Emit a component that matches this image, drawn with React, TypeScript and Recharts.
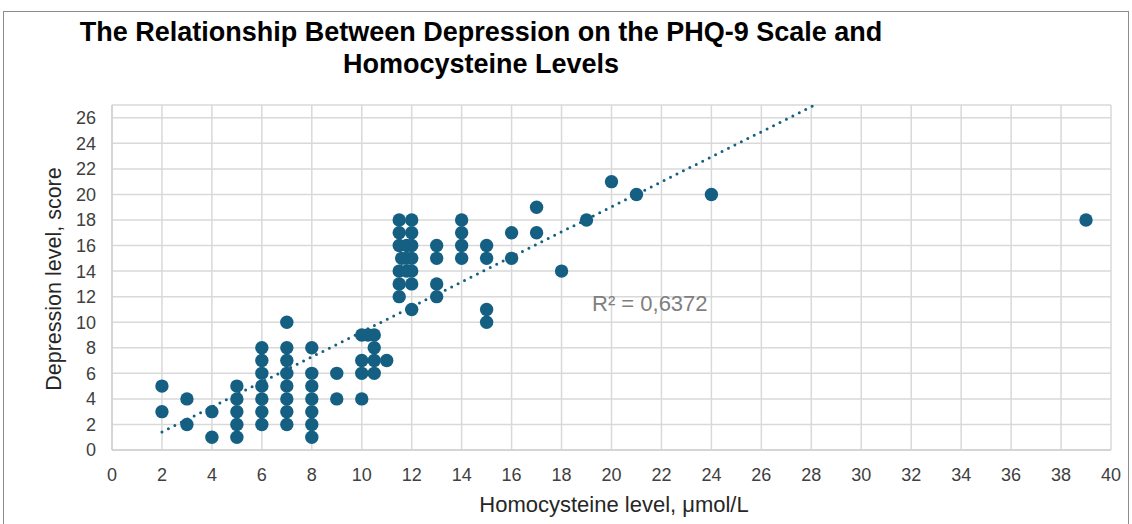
import React from 'react';
import { ScatterChart, Scatter, XAxis, YAxis, CartesianGrid, ReferenceLine } from 'recharts';

// homocysteine level (µmol/L) for each column of points
const HCY_LEVELS = [2, 3, 4, 5, 6, 7, 8, 9, 10, 10.25, 10.5, 11, 11.5, 11.6, 11.8, 12, 13, 14, 15, 16, 17, 18, 19, 20, 21, 24, 39];

// PHQ-9 scores found at each homocysteine level above
const PHQ9_SCORES = [
  [5, 3],
  [4, 2],
  [3, 1],
  [5, 4, 3, 2, 1],
  [8, 7, 6, 5, 4, 3, 2],
  [10, 8, 7, 6, 5, 4, 3, 2],
  [8, 6, 5, 4, 3, 2, 1],
  [6, 4],
  [9, 7, 6, 4],
  [9],
  [9, 8, 7, 6],
  [7],
  [18, 17, 16, 14, 13, 12],
  [15],
  [16, 15, 14],
  [18, 17, 16, 15, 14, 13, 11],
  [16, 15, 13, 12],
  [18, 17, 16, 15],
  [16, 15, 11, 10],
  [17, 15],
  [19, 17],
  [14],
  [18],
  [21],
  [20],
  [20],
  [18],
];

const X_TICKS = [0, 2, 4, 6, 8, 10, 12, 14, 16, 18, 20, 22, 24, 26, 28, 30, 32, 34, 36, 38, 40];
const Y_TICKS = [0, 2, 4, 6, 8, 10, 12, 14, 16, 18, 20, 22, 24, 26];

// linear trendline as shown in the original chart
const TREND_SLOPE = 0.979;
const TREND_INTERCEPT = -0.55;
const TREND_RANGE = [2, 39];
const R_SQUARED = 'R² = 0,6372';

const points = HCY_LEVELS.flatMap((x, i) => PHQ9_SCORES[i].map((y) => ({ x, y })));

const DOT = '#156082';
const FONT = 'Arial, "Liberation Sans", sans-serif';

const Dot = (props: any) => <circle cx={props.cx} cy={props.cy} r={6.7} fill={DOT} />;

export default function App() {
  return (
    <div style={{ position: 'absolute', left: 0, top: 0, width: 1132, height: 524, background: '#fff', fontFamily: FONT, overflow: 'hidden' }}>
      <div style={{ position: 'absolute', left: 3, top: 11, width: 1124, height: 520, border: '1px solid #8c8c8c' }} />
      <div style={{ position: 'absolute', left: 0, top: 16, width: 962, textAlign: 'center', fontSize: 27, fontWeight: 'bold', lineHeight: '32px', color: '#000' }}>
        The Relationship Between Depression on the PHQ-9 Scale and
        <br />
        Homocysteine Levels
      </div>
      <div style={{ position: 'absolute', left: 0, top: 0 }}>
        <ScatterChart width={1132} height={524} margin={{ top: 105, right: 21, bottom: 0, left: 0 }}>
          <CartesianGrid stroke="#d9d9d9" strokeWidth={1.5} />
          <XAxis
            type="number"
            dataKey="x"
            domain={[0, 40]}
            ticks={X_TICKS}
            interval={0}
            height={74}
            tickLine={false}
            tickMargin={12}
            axisLine={{ stroke: '#d0d0d0', strokeWidth: 1.5 }}
            tick={{ fill: '#404040', fontSize: 18, fontFamily: FONT }}
          />
          <YAxis
            type="number"
            dataKey="y"
            domain={[0, 27]}
            ticks={Y_TICKS}
            interval={0}
            width={112}
            tickLine={false}
            tickMargin={10}
            axisLine={{ stroke: '#d0d0d0', strokeWidth: 1.5 }}
            tick={{ fill: '#404040', fontSize: 18, fontFamily: FONT }}
          />
          <ReferenceLine
            segment={[
              { x: TREND_RANGE[0], y: TREND_SLOPE * TREND_RANGE[0] + TREND_INTERCEPT },
              { x: TREND_RANGE[1], y: TREND_SLOPE * TREND_RANGE[1] + TREND_INTERCEPT },
            ]}
            ifOverflow="hidden"
            stroke={DOT}
            strokeWidth={3}
            strokeDasharray="0 7.2"
            strokeLinecap="round"
          />
          <Scatter data={points} shape={Dot} isAnimationActive={false} />
        </ScatterChart>
      </div>
      <div style={{ position: 'absolute', left: 592, top: 291, fontSize: 22, lineHeight: '26px', color: '#7f7f7f' }}>{R_SQUARED}</div>
      <div style={{ position: 'absolute', left: 54, top: 279, transform: 'translate(-50%, -50%) rotate(-90deg)', whiteSpace: 'nowrap', fontSize: 21.5, color: '#262626' }}>
        Depression level, score
      </div>
      <div style={{ position: 'absolute', left: 614, top: 505, transform: 'translate(-50%, -50%)', whiteSpace: 'nowrap', fontSize: 22, color: '#262626' }}>
        Homocysteine level, μmol/L
      </div>
    </div>
  );
}
